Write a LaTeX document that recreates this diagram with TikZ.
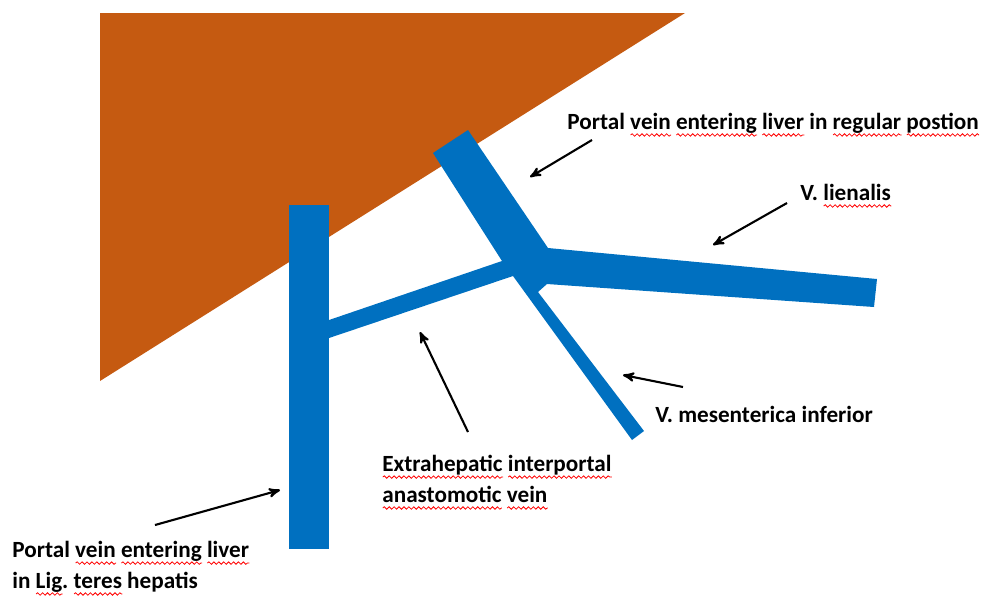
\documentclass[tikz,border=0pt]{standalone}
\usepackage{fontspec}
\setmainfont{Carlito}
\usetikzlibrary{arrows}
\usetikzlibrary{decorations.pathmorphing}
\definecolor{liver}{RGB}{197,90,17}
\definecolor{vessel}{RGB}{0,112,192}
\newcommand\sperr[1]{\setbox0\hbox{#1}\rlap{\tikz[baseline=0pt,x=1pt,y=1pt]\draw[red,line width=0.45pt,decorate,decoration={snake,amplitude=0.7pt,segment length=2.8pt}] (0,-3.4) -- (\the\wd0,-3.4);}\box0\relax}

\begin{document}
\begin{tikzpicture}[x=0.02cm,y=-0.02cm,
  lbl/.style={anchor=base west, inner sep=0, align=left, font=\fontsize{13.2}{17.6}\selectfont\bfseries},
  arr/.style={black, line width=1.2pt, ->, >=stealth'}]
\useasboundingbox (0,0) rectangle (1000,603);
% liver
\fill[liver] (100,13) -- (685,13) -- (100,381) -- cycle;
% veins
\fill[vessel] (289,205) rectangle (329,549);
\fill[vessel] (329,320) -- (502,261) -- (433,153) -- (468,130) -- (548,248) -- (877,279)
  -- (874,307) -- (547,284) -- (538,292) -- (644,431) -- (632,440) -- (513,276) -- (329,338) -- cycle;
% labels
\node[lbl] (regular) at (567,129) {Portal \sperr{vein} \sperr{entering} \sperr{liver} in \sperr{regular} \sperr{postion}};
\node[lbl] (lienalis) at (800,200) {V. \sperr{lienalis}};
\node[lbl] (mesent) at (655,422) {V. mesenterica inferior};
\node[lbl] (extra) at (382,502) {\sperr{Extrahepatic} \sperr{interportal}\\ \sperr{anastomotic} \sperr{vein}};
\node[lbl] (teres) at (12,588) {Portal \sperr{vein} \sperr{entering} \sperr{liver}\\ in \sperr{Lig}.\ \sperr{teres} hepatis};
% arrows
\coordinate (r1) at (592,140); \coordinate (r2) at (530,177);
\coordinate (l1) at (787,203); \coordinate (l2) at (713,245);
\coordinate (m1) at (683,387); \coordinate (m2) at (623,375);
\coordinate (e1) at (468,432); \coordinate (e2) at (420,332);
\coordinate (t1) at (155,525); \coordinate (t2) at (280,490);
\foreach \a/\b in {r1/r2, l1/l2, m1/m2, e1/e2, t1/t2}
  \draw[arr] (\a) -- (\b);
\end{tikzpicture}
\end{document}
